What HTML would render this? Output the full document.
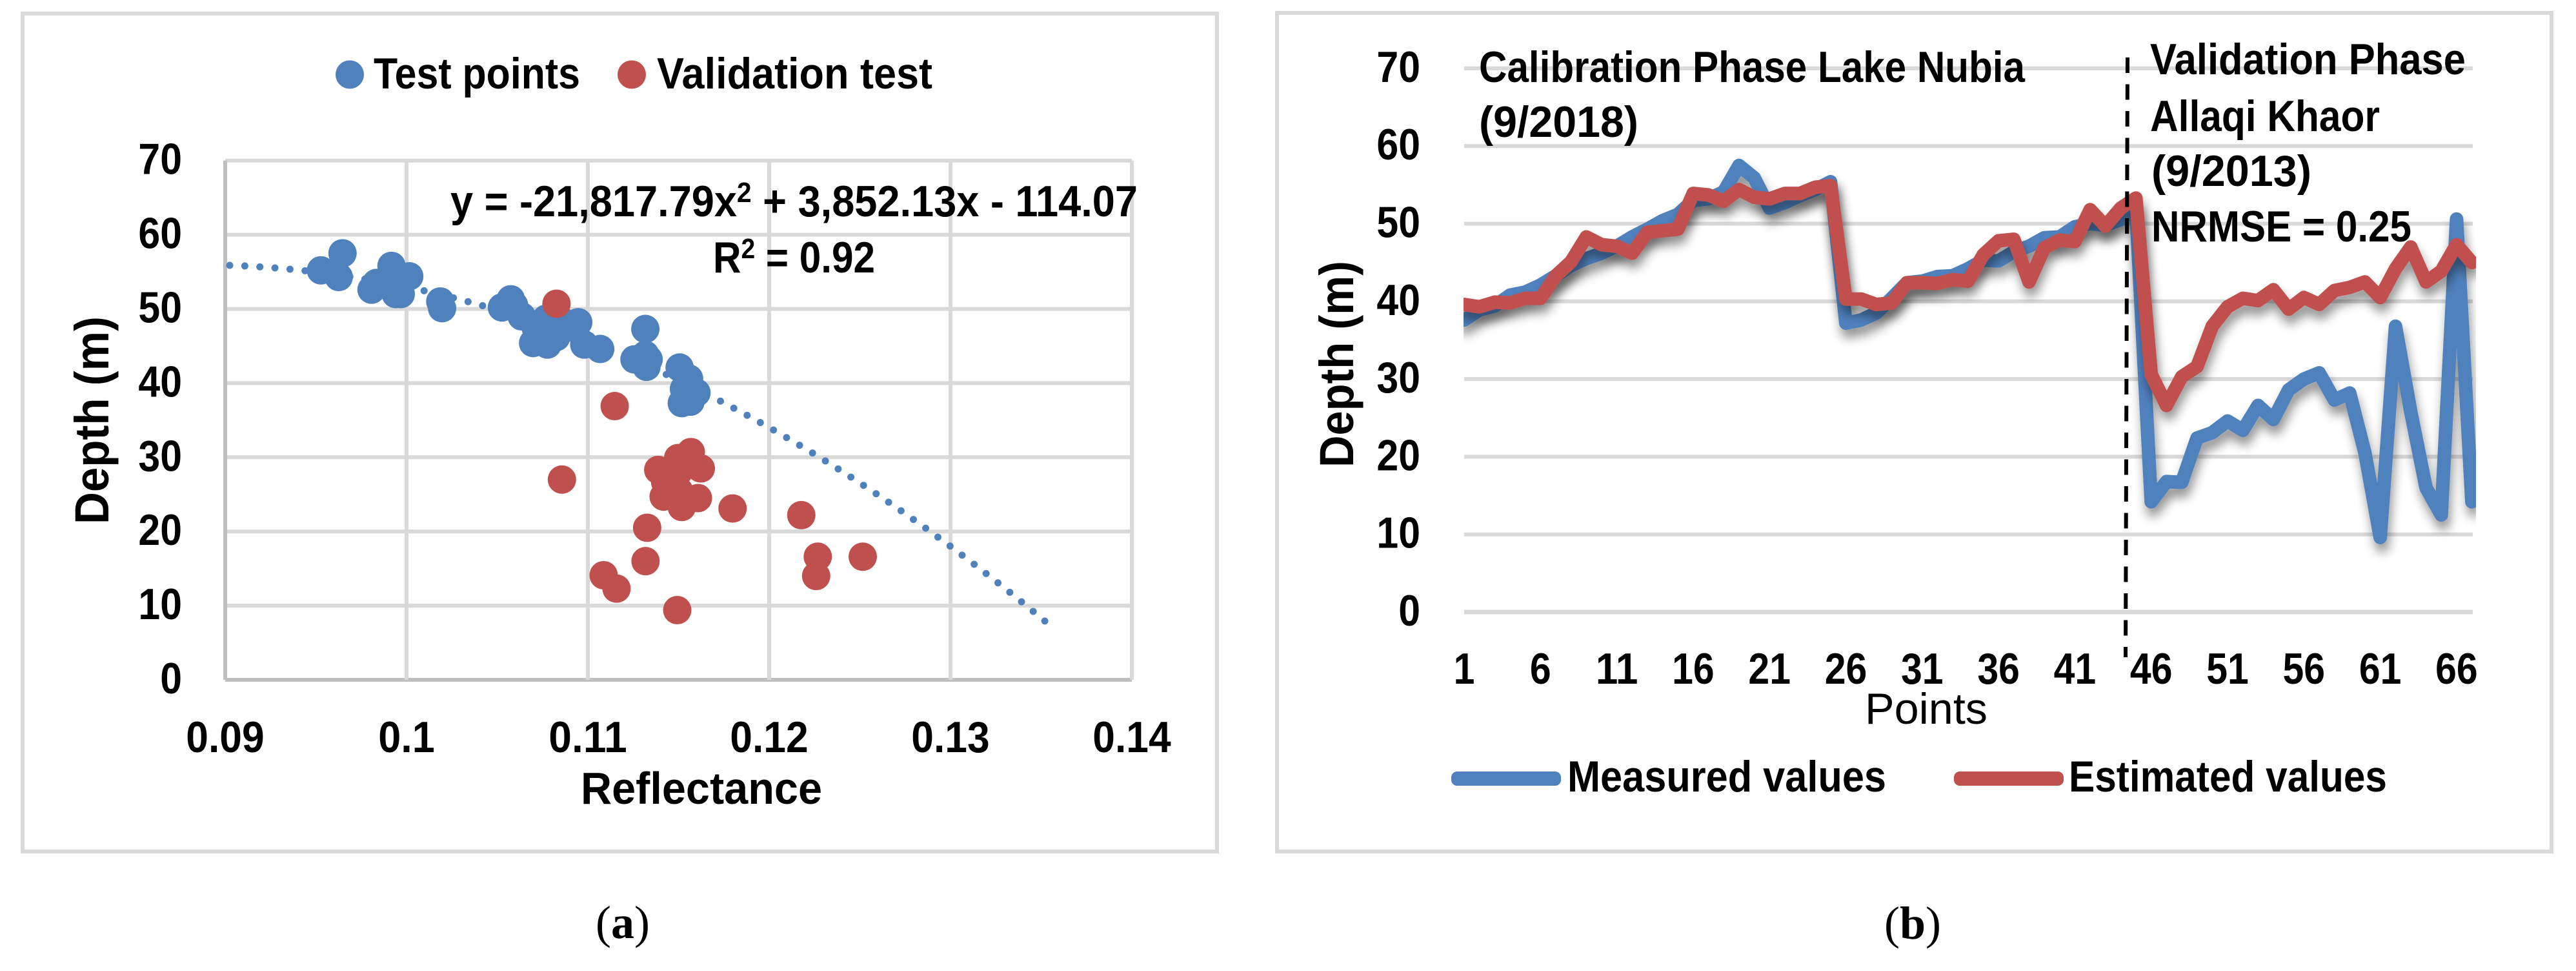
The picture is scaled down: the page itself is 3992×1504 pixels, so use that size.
<!DOCTYPE html>
<html lang="en">
<head>
<meta charset="utf-8">
<title>Depth vs Reflectance charts</title>
<style>
html,body{margin:0;padding:0;background:#fff}
svg{display:block}
text{font-family:"Liberation Sans",sans-serif;font-weight:700;fill:#000;font-size:68px}
.cap{font-family:"Liberation Serif",serif;font-weight:400;font-size:72px}
.frame{fill:#fff;stroke:#d9d9d9;stroke-width:6}
</style>
</head>
<body>
<svg id="root" xmlns="http://www.w3.org/2000/svg" width="3992" height="1504" viewBox="0 0 3992 1504">
  <defs>
    <filter id="line-shadow" filterUnits="userSpaceOnUse" x="2200" y="200" width="1720" height="1000">
      <feGaussianBlur in="SourceAlpha" stdDeviation="8"/>
      <feOffset dx="3" dy="13"/>
      <feComponentTransfer><feFuncA type="linear" slope="0.42"/></feComponentTransfer>
      <feMerge><feMergeNode/><feMergeNode in="SourceGraphic"/></feMerge>
    </filter>
    <clipPath id="line-clip"><rect x="2268" y="60" width="1569" height="1000"/></clipPath>
  </defs>
  <rect width="3992" height="1504" fill="#fff"/>

  <rect class="frame" x="35" y="21" width="1851" height="1298"/>
  <rect class="frame" x="1979" y="20" width="1975" height="1299"/>

  <g id="a-grid"></g>
  <g id="a-marks"></g>
  <g id="a-ticks"></g>

  <g>
    <circle cx="542" cy="115.5" r="22" fill="#4f81bd"/>
    <text x="579" y="137" textLength="320" lengthAdjust="spacingAndGlyphs">Test points</text>
    <circle cx="979" cy="115.5" r="22" fill="#c0504d"/>
    <text x="1018" y="137" textLength="427" lengthAdjust="spacingAndGlyphs">Validation test</text>
  </g>
  <text x="698" y="335" textLength="1065" lengthAdjust="spacingAndGlyphs">y = -21,817.79x<tspan dy="-22" style="font-size:44px">2</tspan><tspan dy="22"> + 3,852.13x - 114.07</tspan></text>
  <text x="1105" y="422" textLength="251" lengthAdjust="spacingAndGlyphs">R<tspan dy="-22" style="font-size:44px">2</tspan><tspan dy="22"> = 0.92</tspan></text>
  <text x="900" y="1245" style="font-size:70px" textLength="374" lengthAdjust="spacingAndGlyphs">Reflectance</text>
  <text transform="translate(168 812) rotate(-90)" style="font-size:74px" textLength="322" lengthAdjust="spacingAndGlyphs">Depth (m)</text>
  <text class="cap" x="923" y="1453">(<tspan style="font-weight:700">a</tspan>)</text>

  <g id="b-grid"></g>
  <g id="b-marks" clip-path="url(#line-clip)"></g>
  <g id="b-ticks"></g>

  <line x1="3297" y1="89" x2="3294" y2="1018" stroke="#000" stroke-width="6" stroke-dasharray="24 17.5"/>
  <text x="2292" y="127" textLength="846" lengthAdjust="spacingAndGlyphs">Calibration Phase Lake Nubia</text>
  <text x="2292" y="212" textLength="247" lengthAdjust="spacingAndGlyphs">(9/2018)</text>
  <text x="3332" y="115" textLength="489" lengthAdjust="spacingAndGlyphs">Validation Phase</text>
  <text x="3332" y="203" textLength="356" lengthAdjust="spacingAndGlyphs">Allaqi Khaor</text>
  <text x="3334" y="288" textLength="248" lengthAdjust="spacingAndGlyphs">(9/2013)</text>
  <text x="3334" y="374" textLength="403" lengthAdjust="spacingAndGlyphs">NRMSE = 0.25</text>
  <text x="2890" y="1121" style="font-weight:400;font-size:68px" textLength="190" lengthAdjust="spacingAndGlyphs">Points</text>
  <text transform="translate(2097 724) rotate(-90)" style="font-size:74px" textLength="320" lengthAdjust="spacingAndGlyphs">Depth (m)</text>

  <g>
    <rect x="2249" y="1195" width="170" height="22" rx="9" fill="#4f81bd"/>
    <text x="2429" y="1226" textLength="494" lengthAdjust="spacingAndGlyphs">Measured values</text>
    <rect x="3028" y="1195" width="170" height="22" rx="9" fill="#c0504d"/>
    <text x="3206" y="1226" textLength="493" lengthAdjust="spacingAndGlyphs">Estimated values</text>
  </g>
  <text class="cap" x="2920" y="1454">(<tspan style="font-weight:700">b</tspan>)</text>
</svg>

<script>
// Scatter chart data
const scatterXTicks = [0.09, 0.1, 0.11, 0.12, 0.13, 0.14];
const scatterYTicks = [0, 10, 20, 30, 40, 50, 60, 70];
const testReflectance = [0.09647,0.09528,0.09626,0.09917,0.10015,0.09807,0.09834,0.09941,0.09968,0.09929,0.10186,0.10196,0.10526,0.10575,0.10593,0.10635,0.10698,0.10777,0.10825,0.10947,0.1098,0.11068,0.10771,0.10854,0.10712,0.10807,0.10914,0.11317,0.11257,0.11317,0.11323,0.11335,0.11506,0.11558,0.11599,0.11518,0.11566,0.1153];
const testDepth = [57.5,55.2,54.3,55.8,54.4,52.6,53.5,52,52,54,51,50.1,50.2,51.3,50.5,49,45.4,45.2,46.2,48.2,45.2,44.6,48.7,48.4,47.5,47.5,47.5,47.3,43.2,43.8,42.2,43.2,42.1,40.6,38.7,37.3,37.5,39.2];
const validationReflectance = [0.10827,0.11148,0.10857,0.11388,0.11498,0.11568,0.11623,0.11426,0.11502,0.11418,0.11518,0.11607,0.11502,0.11798,0.12177,0.12268,0.12259,0.12516,0.11327,0.11318,0.11087,0.11158,0.11493];
const validationDepth = [50.7,36.9,27,28.3,29.9,30.7,28.5,26.7,28.1,24.7,23.3,24.5,25.5,23.1,22.2,16.6,14,16.6,20.5,16,14.1,12.3,9.4];
const trendCoefficients = [-21817.79, 3852.13, -114.07];
const trendRange = [0.09, 0.1354];

// Line chart data
const lineXTicks = [1,6,11,16,21,26,31,36,41,46,51,56,61,66];
const lineYTicks = [0,10,20,30,40,50,60,70];
const measuredValues = [37.6,38.9,39.4,40.8,41.2,42.1,43.3,44.6,45.5,46.2,47.1,48.3,49.3,50.4,51.2,53,53.2,54.1,57.5,55.9,52,52.7,53.6,54.4,55.4,37.2,37.6,38.5,40.4,42.4,42.6,43.2,43.3,44.2,45.3,45.2,46.4,47.1,48.2,48.3,49.6,50,49.8,50.5,52,14.2,16.8,16.7,22.4,23.1,24.6,23.4,26.6,24.8,28.6,30,30.8,27.3,28.2,20.5,9.6,36.8,25.8,16,12.5,50.6,14.2];
const estimatedValues = [39.6,39.3,39.9,39.8,40.4,40.4,43.3,45.1,48.3,47.3,47.1,46.2,48.9,49.1,49.3,53.9,53.7,52.9,54.4,53.4,53.2,53.9,53.9,54.7,54.9,40.3,40.3,39.6,39.8,42.4,42.4,42.3,42.8,42.6,46,47.8,48,42.5,46.9,47.9,47.7,51.8,49.7,52,53.3,30.6,26.6,30.3,31.6,36.8,39.3,40.4,40.1,41.5,39,40.5,39.6,41.4,41.8,42.5,40.5,44.2,47,42.5,43.9,47.3,45];

const NS = 'http://www.w3.org/2000/svg';
const BLUE = '#4f81bd', RED = '#c0504d', GRID = '#d9d9d9', AXIS = '#bfbfbf';

function make(tag, parent, props) {
  const node = document.createElementNS(NS, tag);
  for (const k in props) node.setAttribute(k, props[k]);
  parent.appendChild(node);
  return node;
}
function labelWidth(label) {
  const s = String(label);
  let w = 0;
  for (const c of s) w += (c === '.') ? 20 : 33.8;
  return w;
}

// Axis functions, scatter
const xA = v => 349 + (v - 0.09) * 28100;
const yA = v => 1053 - v * 11.49;
// Axis functions, line chart
const xB = n => 2269 + (n - 1) * 23.66;
const yB = v => 948 - v * 12.03;

// Scatter gridlines
const aGrid = document.getElementById('a-grid');
scatterYTicks.forEach(t => {
  const g = make('line', aGrid, {x1: xA(0.09), x2: xA(0.14), y1: yA(t), y2: yA(t), stroke: t === 0 ? AXIS : GRID, 'stroke-width': 6});
  
  
});
scatterXTicks.forEach(t => {
  const g = make('line', aGrid, {x1: xA(t), x2: xA(t), y1: yA(70), y2: yA(0), stroke: t === 0.09 ? AXIS : GRID, 'stroke-width': 6});
  
  
});

// Scatter tick labels
const aTicks = document.getElementById('a-ticks');
scatterYTicks.forEach(t => {
  const w = labelWidth(t);
  const n = make('text', aTicks, {x: 282 - w, y: yA(t) + 21, textLength: w, lengthAdjust: 'spacingAndGlyphs'});
  n.textContent = t;
  
  
});
scatterXTicks.forEach(t => {
  const w = labelWidth(t);
  const n = make('text', aTicks, {x: xA(t) - w / 2, y: 1165, textLength: w, lengthAdjust: 'spacingAndGlyphs'});
  n.textContent = t;
  
  
});

// Trendline from the printed equation, and markers
const aMarks = document.getElementById('a-marks');
let trendPath = '';
const trendSteps = 120;
for (let s = 0; s <= trendSteps; s++) {
  const x = trendRange[0] + (trendRange[1] - trendRange[0]) * s / trendSteps;
  const y = trendCoefficients[0] * x * x + trendCoefficients[1] * x + trendCoefficients[2];
  trendPath += (s ? 'L' : 'M') + xA(x).toFixed(1) + ' ' + yA(y).toFixed(1);
}
const trend = make('path', aMarks, {d: trendPath, fill: 'none', stroke: BLUE, 'stroke-width': 11, 'stroke-linecap': 'round', 'stroke-dasharray': '0 23.4', 'stroke-dashoffset': -7});



testReflectance.forEach((v, i) => {
  const c = make('circle', aMarks, {cx: xA(v), cy: yA(testDepth[i]), r: 22, fill: BLUE});
  
  
});
validationReflectance.forEach((v, i) => {
  const c = make('circle', aMarks, {cx: xA(v), cy: yA(validationDepth[i]), r: 22, fill: RED});
  
  
});

// Line chart gridlines
const bGrid = document.getElementById('b-grid');
lineYTicks.forEach(t => {
  const g = make('line', bGrid, {x1: 2269, x2: 3832, y1: yB(t), y2: yB(t), stroke: GRID, 'stroke-width': t === 0 ? 7 : 6});
  
  
});

// Line chart tick labels
const bTicks = document.getElementById('b-ticks');
lineYTicks.forEach(t => {
  const w = labelWidth(t);
  const n = make('text', bTicks, {x: 2201 - w, y: yB(t) + 21, textLength: w, lengthAdjust: 'spacingAndGlyphs'});
  n.textContent = t;
  
  
});
lineXTicks.forEach(t => {
  const w = labelWidth(t) * 0.97;
  const n = make('text', bTicks, {x: xB(t) - w / 2, y: 1059, textLength: w, lengthAdjust: 'spacingAndGlyphs'});
  n.textContent = t;
  
  
});

// Line series
const bMarks = document.getElementById('b-marks');
const seriesPoints = arr => arr.map((v, i) => xB(i + 1).toFixed(1) + ',' + yB(v).toFixed(1)).join(' ');
const measuredLine = make('polyline', bMarks, {points: seriesPoints(measuredValues), fill: 'none', stroke: BLUE, 'stroke-width': 21, 'stroke-linejoin': 'round', 'stroke-linecap': 'round', filter: 'url(#line-shadow)'});


const estimatedLine = make('polyline', bMarks, {points: seriesPoints(estimatedValues), fill: 'none', stroke: RED, 'stroke-width': 21, 'stroke-linejoin': 'round', 'stroke-linecap': 'round', filter: 'url(#line-shadow)'});


</script>
</body>
</html>
